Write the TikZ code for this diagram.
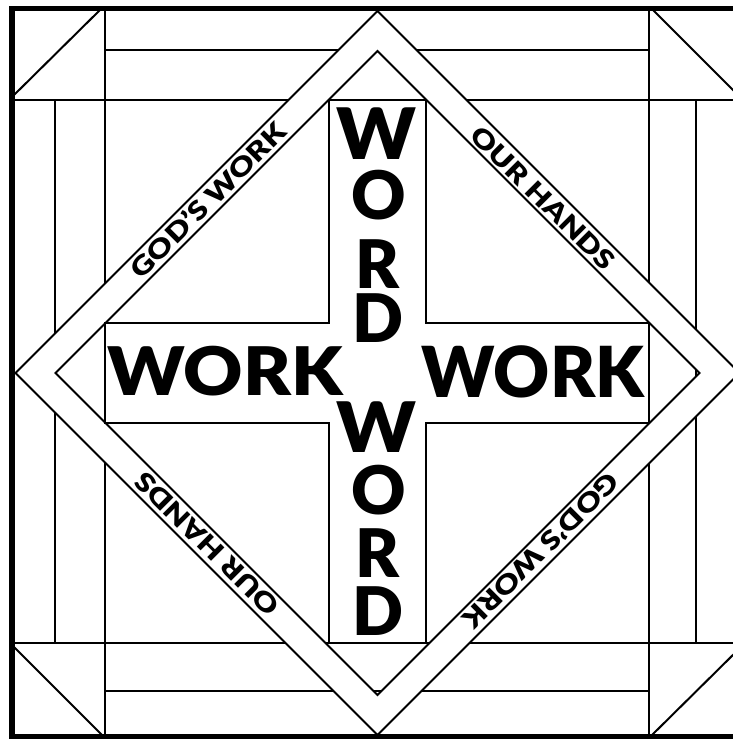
\documentclass[tikz,border=0pt]{standalone}
\usepackage{fontspec}
\IfFontExistsTF{Lato Black}{\newfontfamily\bigf{Lato Black}}{\newfontfamily\bigf{Lato}[UprightFont=* Bold]}
\newcommand{\bandword}[1]{\scalebox{1.22}[1]{#1}}
\begin{document}
\begin{tikzpicture}[x=1pt,y=-1pt,
  ln/.style={line width=2pt, line cap=butt, line join=miter},
  bigletter/.style={font=\bigf\fontsize{67}{67}\selectfont, inner sep=0pt},
  bandtext/.style={font=\bigf\fontsize{26}{26}\selectfont, inner sep=0pt}]
\useasboundingbox (0,0) rectangle (733,739);
\fill[white] (0,0) rectangle (733,739);
\clip (0,0) rectangle (733,739);
% grid lines
\draw[ln] (105,50) -- (649,50);
\draw[ln] (12,100) -- (745,100);
\draw[ln] (12,643) -- (745,643);
\draw[ln] (105,691) -- (649,691);
\draw[ln] (105,9) -- (105,737);
\draw[ln] (649,9) -- (649,737);
\draw[ln] (55,100) -- (55,643);
\draw[ln] (696,100) -- (696,643);
% corner diagonals
\draw[ln] (12,97) -- (101,9);
\draw[ln] (652,9) -- (742,99);
\draw[ln] (12,645) -- (103,736);
\draw[ln] (651,736) -- (742,646);
% diamond band
\fill[white, even odd rule] (377.5,11) -- (739.5,373) -- (377.5,735) -- (15.5,373) -- cycle
  (377.5,51) -- (699.5,373) -- (377.5,695) -- (55.5,373) -- cycle;
\draw[ln] (377.5,11) -- (739.5,373) -- (377.5,735) -- (15.5,373) -- cycle;
\draw[ln] (377.5,51) -- (699.5,373) -- (377.5,695) -- (55.5,373) -- cycle;
% cross
\draw[ln] (329,100) -- (426,100) -- (426,323) -- (649,323) -- (649,423) -- (426,423)
  -- (426,643) -- (329,643) -- (329,423) -- (105,423) -- (105,323) -- (329,323) -- cycle;
% frame
\draw[line width=5.5pt] (745,8.5) -- (12,8.5) -- (12,737) -- (745,737);
% big letters
\node[bigletter, xscale=1.12, yscale=1.06] (w1) at (376,134) {W};
\node[bigletter] (o1) at (379,195) {O};
\node[bigletter] (r1) at (378,264) {R};
\node[bigletter] (d1) at (378,318) {D};
\node[bigletter, xscale=1.12, yscale=1.04] (w2) at (376,427) {W};
\node[bigletter] (o2) at (379,490) {O};
\node[bigletter] (r2) at (378,553) {R};
\node[bigletter] (d2) at (378,611) {D};
\node[bigletter, xscale=1.09] (workl) at (225,371) {WORK};
\node[bigletter, xscale=1.03, yscale=1.05] (workr) at (533,371.5) {WORK};
% band texts
\node[bandtext, rotate=45] (gw1) at (208,200) {\bandword{GOD’S WORK}};
\node[bandtext, rotate=-45] (oh1) at (543,198) {\bandword{OUR HANDS}};
\node[bandtext, rotate=135] (oh2) at (207,544) {\bandword{OUR HANDS}};
\node[bandtext, rotate=-135] (gw2) at (541,551) {\bandword{GOD’S WORK}};
\end{tikzpicture}
\end{document}
